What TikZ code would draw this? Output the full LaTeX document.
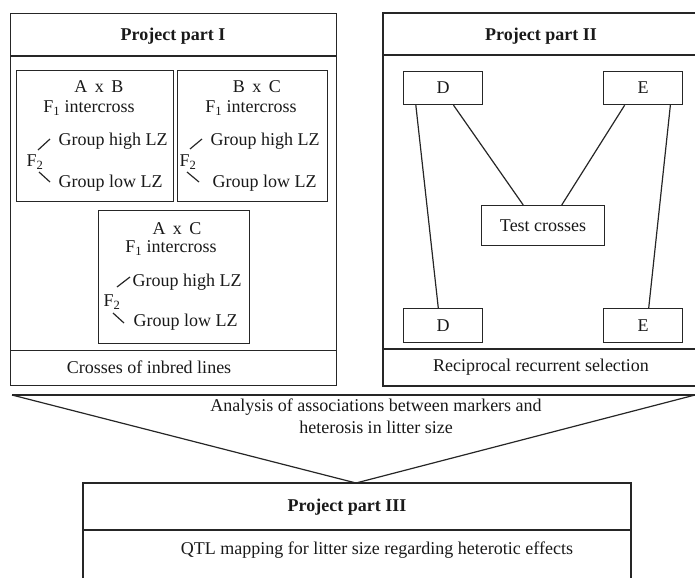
\documentclass[tikz,border=0pt]{standalone}
\usepackage{fontspec}
\setmainfont{Liberation Serif}
\usetikzlibrary{calc}
\begin{document}
\begin{tikzpicture}[x=1pt,y=-1pt,
  line width=1.2pt,
  txt/.style={inner sep=0pt, font=\fontsize{18}{22}\selectfont, text=black!90},
  ttl/.style={txt, font=\fontsize{18}{22}\selectfont\bfseries},
  box/.style={draw=black!85, line width=1.2pt, inner sep=0pt, anchor=north west},
  ln/.style={draw=black!85, line width=1.2pt},
  conn/.style={ln}]
\useasboundingbox (0,0) rectangle (695,578);

% ---------- Project part I ----------
\node[box, minimum width=326pt, minimum height=372pt] (P1) at (10,13) {};
\draw[ln] ($(P1.north west)+(0,43)$) -- ($(P1.north east)+(0,43)$);
\draw[ln] ($(P1.south west)+(0,-36)$) -- ($(P1.south east)+(0,-36)$);
\node[ttl] (t1) at (173,36) {Project part I};
\node[txt] (c1) at (149,367) {Crosses of inbred lines};

% A x B
\node[box, minimum width=157pt, minimum height=131pt] (AB) at (16,70) {};
\node[txt] (ab1) at (99,87) {A\, x\, B};
\node[txt] (ab2) at (89,108) {F\textsubscript{1} intercross};
\node[txt, anchor=west] (abh) at (58,141) {Group high LZ};
\node[txt, anchor=west] (abl) at (58,183) {Group low LZ};
\node[txt] (abf) at (35,162) {F\textsubscript{2}};
\draw[ln] (38,150) -- (50,139);
\draw[ln] (39,172) -- (50,182);

% B x C
\node[box, minimum width=150pt, minimum height=131pt] (BC) at (177,70) {};
\node[txt] (bc1) at (257,87) {B\, x\, C};
\node[txt] (bc2) at (251,108) {F\textsubscript{1} intercross};
\node[txt, anchor=west] (bch) at (210,141) {Group high LZ};
\node[txt, anchor=west] (bcl) at (212,183) {Group low LZ};
\node[txt] (bcf) at (188,162) {F\textsubscript{2}};
\draw[ln] (190,149) -- (202,139);
\draw[ln] (187,172) -- (199,182);

% A x C
\node[box, minimum width=151pt, minimum height=133pt] (AC) at (98,210) {};
\node[txt] (ac1) at (177,229) {A\, x\, C};
\node[txt] (ac2) at (171,248) {F\textsubscript{1} intercross};
\node[txt, anchor=west] (ach) at (132,282) {Group high LZ};
\node[txt, anchor=west] (acl) at (133,322) {Group low LZ};
\node[txt] (acf) at (112,302) {F\textsubscript{2}};
\draw[ln] (117,287) -- (130,277);
\draw[ln] (113,313) -- (124,323);

% ---------- Project part II ----------
\coordinate (P2a) at (695,13);
\coordinate (P2b) at (383,13);
\coordinate (P2c) at (383,386);
\coordinate (P2d) at (695,386);
\draw[ln] (P2a) -- (P2b) -- (P2c) -- (P2d);
\draw[ln] (383,55) -- (695,55);
\draw[ln] (383,349) -- (695,349);
\node[ttl] (t2) at (541,36) {Project part II};
\node[txt] (c2) at (541,367) {Reciprocal recurrent selection};

\node[box, minimum width=79pt, minimum height=33pt] (Dt) at (403,71) {};
\node[txt] at (Dt.center) {D};
\node[box, minimum width=79pt, minimum height=33pt] (Et) at (603,71) {};
\node[txt] at (Et.center) {E};
\node[box, minimum width=123pt, minimum height=40pt] (T) at (481,205) {};
\node[txt] at (T.center) {Test crosses};
\node[box, minimum width=79pt, minimum height=34pt] (Db) at (403,308) {};
\node[txt] at (Db.center) {D};
\node[box, minimum width=79pt, minimum height=34pt] (Eb) at (603,308) {};
\node[txt] at (Eb.center) {E};

\draw[conn] ($(Dt.south west)!0.16!(Dt.south east)$) -- ($(Db.north west)!0.44!(Db.north east)$);
\draw[conn] ($(Dt.south west)!0.63!(Dt.south east)$) -- ($(T.north west)!0.34!(T.north east)$);
\draw[conn] ($(Et.south west)!0.27!(Et.south east)$) -- ($(T.north west)!0.65!(T.north east)$);
\draw[conn] ($(Et.south west)!0.84!(Et.south east)$) -- ($(Eb.north west)!0.57!(Eb.north east)$);

% ---------- Funnel ----------
\coordinate (fl) at (12,395);
\coordinate (fr) at (695,395);
\coordinate (fa) at (356,483);
\draw[ln] (fl) -- (fr);
\draw[ln] (fl) -- (fa) -- (fr);
\node[txt, align=center] (an) at (376,416) {Analysis of associations between markers and\\heterosis in litter size};

% ---------- Project part III ----------
\coordinate (P3a) at (83,578);
\coordinate (P3b) at (83,483);
\coordinate (P3c) at (631,483);
\coordinate (P3d) at (631,578);
\draw[ln] (P3a) -- (P3b) -- (P3c) -- (P3d);
\draw[ln] (83,530) -- (631,530);
\node[ttl] (t3) at (347,507) {Project part III};
\node[txt] (q) at (377,550) {QTL mapping for litter size regarding heterotic effects};
\end{tikzpicture}
\end{document}
